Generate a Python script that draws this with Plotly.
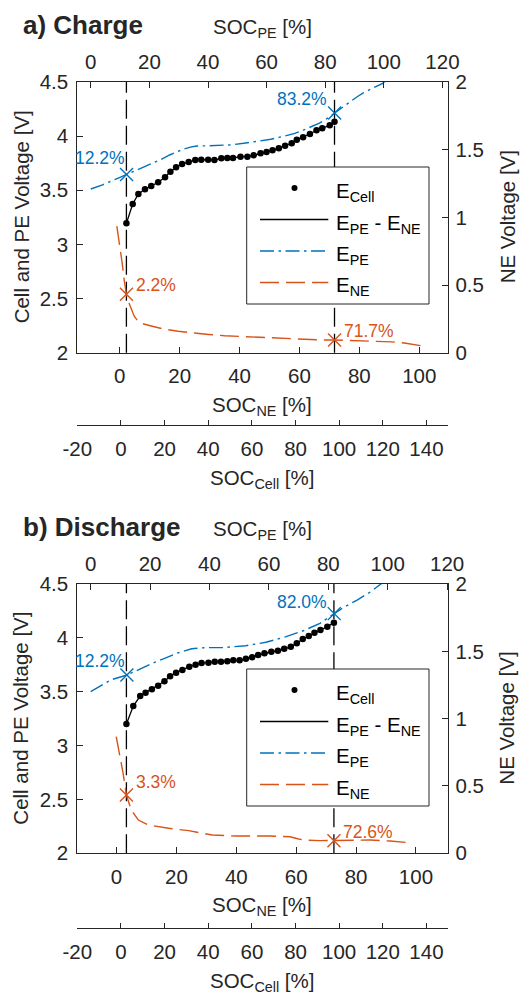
import plotly.graph_objects as go

W, H = 522, 994
FONT = "Liberation Sans, Arial, Helvetica, sans-serif"
AX = "#262626"
BLUE = "#0072BD"
ORANGE = "#D95319"

# ---------------- tick values ----------------
ne_ticks = [0, 20, 40, 60, 80, 100]
pe_ticks = [0, 20, 40, 60, 80, 100, 120]
cell_ticks = [-20, 0, 20, 40, 60, 80, 100, 120, 140]
v_ticks = [2, 2.5, 3, 3.5, 4, 4.5]
ne_v_ticks = [0, 0.5, 1, 1.5, 2]

# ---------------- a) charge ----------------
a_cell_soc_ne = [2.2, 4.3, 6.2, 8.4, 10.5, 12.8, 15.1, 16.9, 18.8, 20.8, 23.0, 25.2,
                 27.2, 29.5, 31.6, 33.9, 35.9, 37.8, 40.3, 42.6, 44.7, 47.0, 49.0,
                 51.0, 53.1, 55.2, 57.4, 59.1, 61.2, 63.5, 65.7, 67.6, 70.1, 71.7]
a_cell_v = [3.195, 3.373, 3.466, 3.509, 3.540, 3.574, 3.620, 3.672, 3.712, 3.743,
            3.761, 3.780, 3.782, 3.782, 3.780, 3.795, 3.798, 3.798, 3.810, 3.810,
            3.823, 3.842, 3.854, 3.869, 3.888, 3.912, 3.934, 3.967, 3.989, 4.020,
            4.054, 4.072, 4.100, 4.133]

a_pe_soc = [0, 4, 8.4, 12.2, 16, 20, 24, 26.9, 29, 31.5, 34, 36.1, 40, 43, 48, 52.2,
            57, 61.4, 66, 69.6, 72.5, 75.3, 78, 79.9, 83.2, 85.2, 88, 90.9, 93, 95.5,
            98, 99.6, 100.5]
a_pe_v = [3.512, 3.550, 3.601, 3.645, 3.690, 3.735, 3.785, 3.826, 3.850, 3.878, 3.898,
          3.909, 3.911, 3.912, 3.920, 3.934, 3.952, 3.971, 4.000, 4.026, 4.055, 4.087,
          4.120, 4.149, 4.214, 4.255, 4.310, 4.364, 4.400, 4.433, 4.470, 4.488, 4.510]

a_ne_soc = [-1.0, 0.0, 0.8, 1.5, 2.2, 3.0, 3.8, 4.8, 6.0, 7.5, 9.5, 14, 19.5, 24.5,
            29.7, 35, 42, 48, 54.7, 59, 63.6, 67.5, 71.7, 76, 81, 86, 91, 95, 98, 100.5]
a_ne_v = [0.935, 0.800, 0.660, 0.530, 0.431, 0.370, 0.320, 0.270, 0.235, 0.215, 0.203,
          0.178, 0.158, 0.145, 0.135, 0.125, 0.118, 0.112, 0.106, 0.099, 0.094, 0.094,
          0.094, 0.092, 0.090, 0.086, 0.080, 0.072, 0.062, 0.052]

a_pe_mark_soc = [12.2, 83.2]
a_pe_mark_v = [3.645, 4.214]
a_ne_mark_soc = [2.2, 71.7]
a_ne_mark_v = [0.431, 0.094]

# ---------------- b) discharge ----------------
b_cell_soc_ne = [3.3, 5.6, 7.9, 9.7, 11.8, 13.9, 16.0, 17.9, 19.9, 22.0, 24.3, 26.4,
                 28.4, 30.7, 32.8, 34.9, 37.0, 39.0, 41.1, 43.2, 45.3, 47.3, 49.4,
                 51.7, 53.9, 56.0, 58.2, 60.2, 62.2, 64.2, 66.1, 68.1, 70.4, 72.6]
b_cell_v = [3.200, 3.367, 3.460, 3.491, 3.522, 3.556, 3.597, 3.643, 3.677, 3.702,
            3.732, 3.751, 3.767, 3.770, 3.779, 3.779, 3.782, 3.791, 3.791, 3.806,
            3.819, 3.840, 3.856, 3.871, 3.880, 3.899, 3.917, 3.949, 3.989, 4.017,
            4.048, 4.073, 4.104, 4.141]

b_pe_soc = [0, 3.5, 6.7, 12.2, 18.1, 21.5, 24.9, 29.5, 34.0, 38.5, 44.2, 52.2, 59.0,
            65.8, 71.6, 77.2, 82.0, 85.0, 89.7, 94.3, 97.7, 98.5]
b_pe_v = [3.500, 3.560, 3.609, 3.655, 3.732, 3.772, 3.810, 3.862, 3.899, 3.909, 3.909,
          3.927, 3.959, 4.011, 4.066, 4.135, 4.225, 4.280, 4.351, 4.429, 4.500, 4.515]

b_ne_soc = [-0.1, 1.0, 2.2, 3.3, 4.9, 7.3, 10.6, 17.4, 24.1, 32.0, 39.9, 51.1, 57.9,
            60.5, 62.4, 68.0, 72.6, 77.9, 84.6, 91.4, 97.5]
b_ne_v = [0.866, 0.743, 0.594, 0.433, 0.322, 0.247, 0.210, 0.186, 0.168, 0.136, 0.128,
          0.128, 0.123, 0.108, 0.099, 0.094, 0.094, 0.099, 0.099, 0.091, 0.079]

b_pe_mark_soc = [12.2, 82.0]
b_pe_mark_v = [3.655, 4.225]
b_ne_mark_soc = [3.3, 72.6]
b_ne_mark_v = [0.433, 0.094]

panels = [
    dict(title="a) Charge", top=82.0, bottom=352.7, cell=425.0,
         ne_range=[-14.2, 109.7], pe_range=[-4.6, 122.0],
         cell_ne=a_cell_soc_ne, cell_v=a_cell_v, pe_soc=a_pe_soc, pe_v=a_pe_v,
         ne_soc=a_ne_soc, ne_v=a_ne_v,
         pe_mark=(a_pe_mark_soc, a_pe_mark_v), ne_mark=(a_ne_mark_soc, a_ne_mark_v),
         pe_lab=[(0, 16.7), (-6, 14.4)], ne_lab=[(8, 9.7), (7, 9.3)],
         axes=dict(x="x", y="y", pe="x2", nv="y2", cell="x3")),
    dict(title="b) Discharge", top=584.0, bottom=853.3, cell=928.3,
         ne_range=[-13.1, 110.8], pe_range=[-4.5, 120.4],
         cell_ne=b_cell_soc_ne, cell_v=b_cell_v, pe_soc=b_pe_soc, pe_v=b_pe_v,
         ne_soc=b_ne_soc, ne_v=b_ne_v,
         pe_mark=(b_pe_mark_soc, b_pe_mark_v), ne_mark=(b_ne_mark_soc, b_ne_mark_v),
         pe_lab=[(0, 14.3), (-5, 11.3)], ne_lab=[(8, 13.3), (7, 9.0)],
         axes=dict(x="x4", y="y3", pe="x5", nv="y4", cell="x6")),
]

LEFT, RIGHT = 77.3, 448.3
TICK_SIZE = 20.5
TITLE_SIZE = 20.5


def px(x):
    return x / W


def py(y):
    return 1 - y / H


def axis_style(**kw):
    base = dict(showgrid=False, zeroline=False, showline=True, linecolor=AX,
                linewidth=1, ticks="inside", ticklen=6, tickwidth=1, tickcolor=AX,
                automargin=False,
                tickfont=dict(family=FONT, size=TICK_SIZE, color=AX), fixedrange=True)
    base.update(kw)
    return base


def lname(ax_id):
    # "x4" -> "xaxis4", "y" -> "yaxis"
    return ax_id[0] + "axis" + ax_id[1:]


fig = go.Figure()
layout = dict(width=W, height=H, margin=dict(l=0, r=0, t=0, b=0, autoexpand=False),
              template="none",
              paper_bgcolor="white", plot_bgcolor="white", showlegend=False,
              font=dict(family=FONT, color=AX))
shapes, annotations = [], []

for p in panels:
    A = p["axes"]
    dom_x = [px(LEFT), px(RIGHT)]
    dom_y = [py(p["bottom"]), py(p["top"])]

    layout[lname(A["x"])] = axis_style(domain=dom_x, anchor=A["y"], range=p["ne_range"],
                                       tickvals=ne_ticks, ticklabelstandoff=5)
    layout[lname(A["y"])] = axis_style(domain=dom_y, anchor=A["x"], range=[2, 4.5],
                                       tickvals=v_ticks, ticklabelstandoff=4)
    layout[lname(A["pe"])] = axis_style(overlaying=A["x"], anchor=A["y"], side="top",
                                        range=p["pe_range"], tickvals=pe_ticks,
                                        ticklabelstandoff=4)
    layout[lname(A["nv"])] = axis_style(overlaying=A["y"], anchor=A["x"], side="right",
                                        range=[0, 2], tickvals=ne_v_ticks,
                                        ticklabelstandoff=2)
    layout[lname(A["cell"])] = axis_style(overlaying=A["x"], anchor="free",
                                          position=py(p["cell"]), range=[-20, 150],
                                          tickvals=cell_ticks, ticklen=5,
                                          ticktext=[str(v) for v in cell_ticks],
                                          ticklabelstandoff=5)

    # vertical guides at the NE crosses (drawn under the traces)
    for s in p["ne_mark"][0]:
        shapes.append(dict(type="line", xref=A["x"], yref=A["y"] + " domain",
                           x0=s, x1=s, y0=0, y1=1, layer="below",
                           line=dict(color="black", width=1.3, dash="19px,7px")))

    # measured cell voltage and the PE - NE difference
    fig.add_trace(go.Scatter(x=p["cell_ne"], y=p["cell_v"], mode="lines",
                             xaxis=A["x"], yaxis=A["y"], hoverinfo="skip",
                             line=dict(color="black", width=1.3)))
    fig.add_trace(go.Scatter(x=p["cell_ne"], y=p["cell_v"], mode="markers",
                             xaxis=A["x"], yaxis=A["y"],
                             marker=dict(color="black", size=6.5, symbol="circle")))
    # electrode potentials
    fig.add_trace(go.Scatter(x=p["pe_soc"], y=p["pe_v"], mode="lines",
                             xaxis=A["pe"], yaxis=A["y"],
                             line=dict(color=BLUE, width=1.4, dash="14px,4.5px,2.5px,4.5px")))
    fig.add_trace(go.Scatter(x=p["ne_soc"], y=p["ne_v"], mode="lines",
                             xaxis=A["x"], yaxis=A["nv"],
                             line=dict(color=ORANGE, width=1.4, dash="19px,7px")))
    # crosses at the cell SOC limits
    fig.add_trace(go.Scatter(x=p["pe_mark"][0], y=p["pe_mark"][1], mode="markers",
                             xaxis=A["pe"], yaxis=A["y"],
                             marker=dict(symbol="x-thin", size=13,
                                         line=dict(color=BLUE, width=1.4))))
    fig.add_trace(go.Scatter(x=p["ne_mark"][0], y=p["ne_mark"][1], mode="markers",
                             xaxis=A["x"], yaxis=A["nv"],
                             marker=dict(symbol="x-thin", size=13,
                                         line=dict(color=ORANGE, width=1.4))))
    # keeps the cell SOC axis drawn
    fig.add_trace(go.Scatter(x=[], y=[], mode="lines", xaxis=A["cell"], yaxis=A["y"],
                             hoverinfo="skip"))

    for (s, v), (dx, dy) in zip(zip(*p["pe_mark"]), p["pe_lab"]):
        annotations.append(dict(xref=A["pe"], yref=A["y"], x=s, y=v, text=f"{s:.1f}%",
                                showarrow=False, xanchor="right", yanchor="middle",
                                xshift=dx, yshift=dy,
                                font=dict(family=FONT, size=17.5, color=BLUE)))
    for (s, v), (dx, dy) in zip(zip(*p["ne_mark"]), p["ne_lab"]):
        annotations.append(dict(xref=A["x"], yref=A["nv"], x=s, y=v, text=f"{s:.1f}%",
                                showarrow=False, xanchor="left", yanchor="middle",
                                xshift=dx, yshift=dy,
                                font=dict(family=FONT, size=17.5, color=ORANGE)))

    top, bot, cell = p["top"], p["bottom"], p["cell"]
    mid = (top + bot) / 2

    # panel heading and axis titles
    annotations += [
        dict(xref="paper", yref="paper", x=px(21), y=py(top - 57), text=f"<b>{p['title']}</b>",
             showarrow=False, xanchor="left", yanchor="middle",
             font=dict(family=FONT, size=26, color=AX)),
        dict(xref="paper", yref="paper", x=px(262), y=py(top - 54),
             text="SOC<sub>PE</sub> [%]", showarrow=False, xanchor="center",
             yanchor="middle", font=dict(family=FONT, size=TITLE_SIZE, color=AX)),
        dict(xref="paper", yref="paper", x=px(262), y=py(bot + 53),
             text="SOC<sub>NE</sub> [%]", showarrow=False, xanchor="center",
             yanchor="middle", font=dict(family=FONT, size=TITLE_SIZE, color=AX)),
        dict(xref="paper", yref="paper", x=px(262), y=py(cell + 54),
             text="SOC<sub>Cell</sub> [%]", showarrow=False, xanchor="center",
             yanchor="middle", font=dict(family=FONT, size=TITLE_SIZE, color=AX)),
        dict(xref="paper", yref="paper", x=px(21), y=py(mid),
             text="Cell and PE Voltage [V]", showarrow=False, textangle=-90,
             xanchor="center", yanchor="middle",
             font=dict(family=FONT, size=TITLE_SIZE, color=AX)),
        dict(xref="paper", yref="paper", x=px(507), y=py(mid),
             text="NE Voltage [V]", showarrow=False, textangle=-90,
             xanchor="center", yanchor="middle",
             font=dict(family=FONT, size=TITLE_SIZE, color=AX)),
    ]

    # legend box
    lx0, lx1 = 246.7, 429.0
    ly0 = top + 85.0
    ly1 = ly0 + 137.0
    shapes.append(dict(type="rect", xref="paper", yref="paper", x0=px(lx0), x1=px(lx1),
                       y0=py(ly1), y1=py(ly0), layer="above", fillcolor="white",
                       line=dict(color=AX, width=1)))
    rows = [ly0 + 21 + i * 31.5 for i in range(4)]
    sx0, sx1 = 260.0, 328.3
    shapes.append(dict(type="circle", xref="paper", yref="paper",
                       x0=px(294.5 - 3), x1=px(294.5 + 3), y0=py(rows[0] + 3),
                       y1=py(rows[0] - 3), layer="above", fillcolor="black",
                       line=dict(color="black", width=0)))
    styles = [dict(color="black", width=1.3),
              dict(color=BLUE, width=1.4, dash="14px,4.5px,2.5px,4.5px"),
              dict(color=ORANGE, width=1.4, dash="19px,7px")]
    for r, st in zip(rows[1:], styles):
        shapes.append(dict(type="line", xref="paper", yref="paper", x0=px(sx0), x1=px(sx1),
                           y0=py(r), y1=py(r), layer="above", line=st))
    labels = ["E<sub>Cell</sub>", "E<sub>PE</sub> - E<sub>NE</sub>",
              "E<sub>PE</sub>", "E<sub>NE</sub>"]
    for r, t in zip(rows, labels):
        annotations.append(dict(xref="paper", yref="paper", x=px(334), y=py(r + 4),
                                text=t, showarrow=False, xanchor="left", yanchor="middle",
                                font=dict(family=FONT, size=20.5, color="black")))

layout["shapes"] = shapes
layout["annotations"] = annotations
fig.update_layout(**layout)
fig.write_html("out.html")
